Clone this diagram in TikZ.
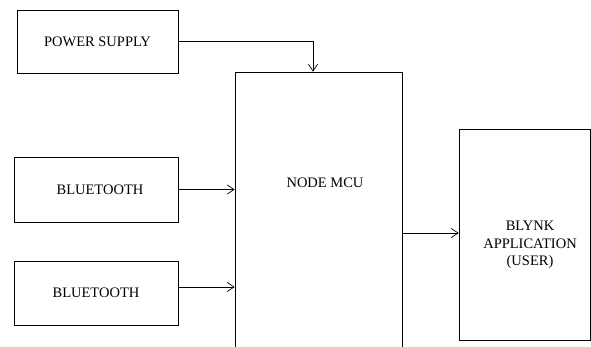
\documentclass[tikz,border=0pt]{standalone}
\usepackage{fontspec}
\setmainfont{Liberation Serif}
\usetikzlibrary{arrows.meta, positioning}
\tikzset{
  blockbox/.style={
    draw, line width=0.7pt, align=center,
    inner sep=2pt, font=\fontsize{14.5}{17.5}\selectfont
  },
  blocktext/.style={align=center, inner sep=0pt, font=\fontsize{14.5}{17.5}\selectfont},
  sigarr/.style={
    -{Straight Barb[length=2.4mm,width=3.2mm]},
    line width=0.7pt
  }
}

\begin{document}
\begin{tikzpicture}[x=1pt, y=-1pt]
  \useasboundingbox (0,0) rectangle (591,347);
  \clip (0,0) rectangle (591,347);

  %% left column: inputs
  \node[blockbox, minimum width=161pt, minimum height=63pt] (psu) at (97.5,41.5) {POWER SUPPLY};
  \node[blockbox, minimum width=164pt, minimum height=65pt] (bt1) at (96,189.5) {\hspace*{8pt}BLUETOOTH};
  \node[blockbox, minimum width=164pt, minimum height=64pt] (bt2) at (96,293) {BLUETOOTH};

  %% controller (runs off the bottom edge)
  \node[blockbox, minimum width=167pt, minimum height=330pt] (mcu) at (318.5,237) {};
  \node[blocktext] (mcutxt) at (325,183) {NODE MCU};

  %% output
  \node[blockbox, minimum width=131pt, minimum height=211pt] (blynk) at (524.5,234.5) {};
  \node[blocktext] (blynktxt) at (530,245) {BLYNK\\APPLICATION\\(USER)};

  %% arrows
  \draw[sigarr] (psu.east) -| ([xshift=-5.5pt]mcu.north);
  \draw[sigarr] (bt1.east) -- (bt1.east -| mcu.west);
  \draw[sigarr] ([yshift=6pt]bt2.east) -- ([yshift=6pt]bt2.east -| mcu.west);
  \draw[sigarr] ([yshift=1.5pt]blynk.west -| mcu.east) -- ([yshift=1.5pt]blynk.west);
\end{tikzpicture}
\end{document}
